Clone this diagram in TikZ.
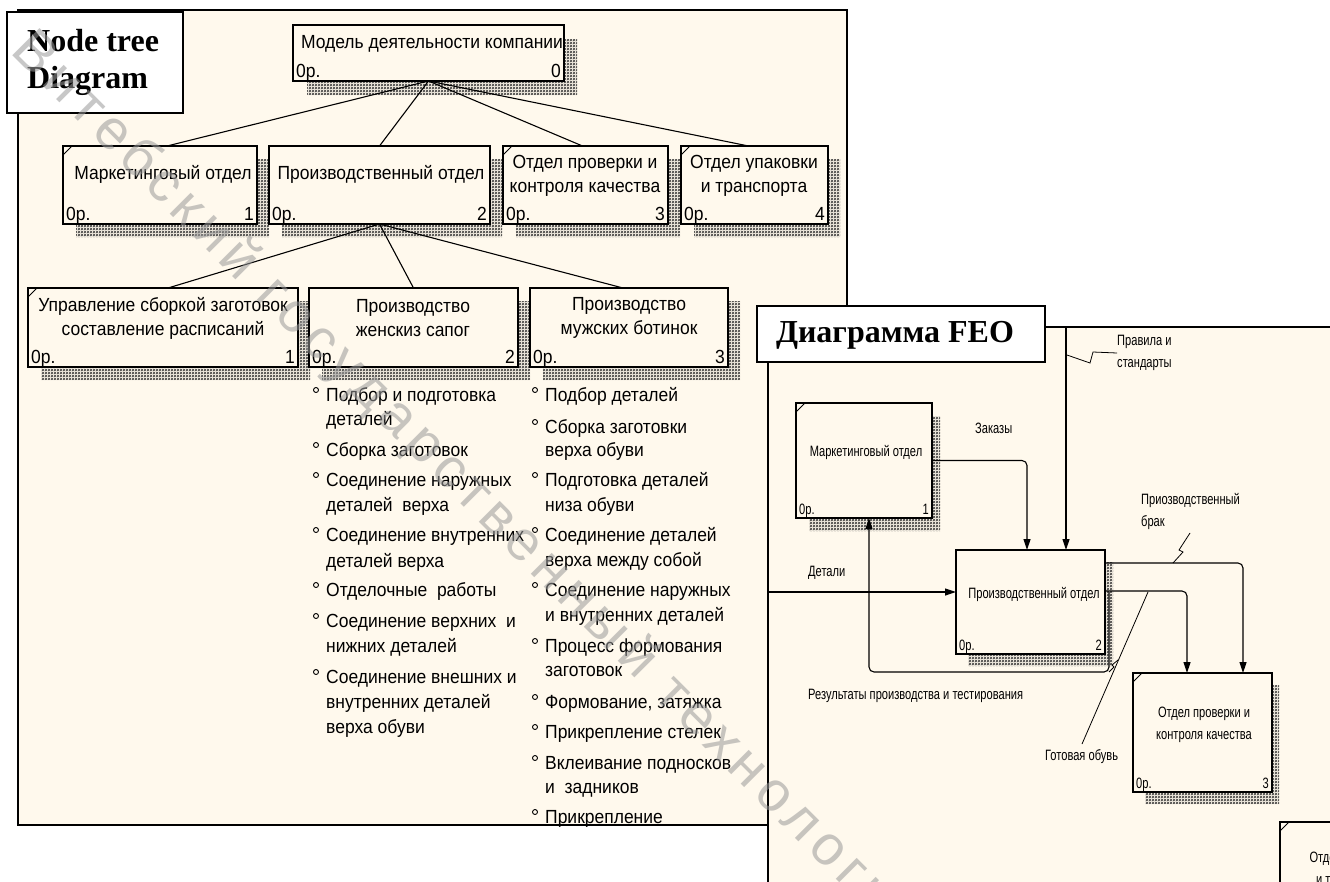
\documentclass[tikz,border=0pt]{standalone}
\usepackage{fontspec}
\setmainfont{Liberation Serif}
\newfontfamily\treefont{Liberation Sans}[FakeStretch=0.92]
\newfontfamily\feofont{Liberation Sans}[FakeStretch=0.74]
\newfontfamily\wmfont{Liberation Sans}[LetterSpace=12]
\usetikzlibrary{arrows.meta,calc,patterns}
\definecolor{cream}{RGB}{255,249,237}
\pgfdeclarepatternformonly{idefhatch}{\pgfqpoint{0pt}{0pt}}{\pgfqpoint{3pt}{3pt}}{\pgfqpoint{3pt}{3pt}}{%
  \pgfsetlinewidth{0.55pt}%
  \pgfpathmoveto{\pgfqpoint{0pt}{0pt}}\pgfpathlineto{\pgfqpoint{3pt}{3pt}}%
  \pgfpathmoveto{\pgfqpoint{0pt}{3pt}}\pgfpathlineto{\pgfqpoint{3pt}{0pt}}%
  \pgfusepath{stroke}}
\newcommand\tfont{\treefont\fontsize{19}{24}\selectfont}
\newcommand\ffont{\feofont\fontsize{15}{22}\selectfont}
% name, x1, y1, x2, y2, shadow right width, shadow bottom height, font, number
\newcommand\idef[9]{%
  \fill[hatch] (#4,#3+#7) -- (#4+#6,#3+#7) -- (#4+#6,#5+#7) -- (#2+#7,#5+#7) -- (#2+#7,#5) -- (#4,#5) -- cycle;
  \node[ibx, anchor=north west, minimum width={(#4-#2)*1pt}, minimum height={(#5-#3)*1pt}] (#1) at (#2,#3) {};
  \node[font=#8, anchor=base west, inner sep=0] (#1-op) at ($(#1.south west)+(3,-4)$) {0р.};
  \node[font=#8, anchor=base east, inner sep=0] (#1-no) at ($(#1.south east)+(-3,-4)$) {#9};
}
\newcommand\cmark[1]{\draw[line width=0.8pt] (#1.north west) ++(0,9) -- ++(9,-9);}
\begin{document}
\begin{tikzpicture}[x=1pt,y=-1pt,
  ibx/.style={draw=black, fill=cream, line width=1.3pt, inner sep=0, outer sep=0},
  hatch/.style={pattern=idefhatch, pattern color=black!80},
  tline/.style={line width=1.1pt},
  arr/.style={line width=1.1pt, -{Triangle[length=11pt,width=7pt]}},
  leader/.style={line width=0.8pt},
  tf/.style={font=\tfont, align=center, inner sep=0},
  ff/.style={font=\ffont, align=center, inner sep=0},
  fl/.style={font=\ffont, align=left, inner sep=0, anchor=west},
  lt/.style={font=\tfont, anchor=base west, inner sep=0},
  bul/.style={circle, draw, line width=0.9pt, inner sep=0, minimum size=5pt},
  panel/.style={draw=black, fill=cream, line width=1.4pt},
  lbox/.style={draw=black, fill=white, line width=1.6pt, inner sep=0, outer sep=0},
  lbtext/.style={font=\bfseries\fontsize{32}{37}\selectfont, inner sep=0},
]
\useasboundingbox (0,0) rectangle (1330,881);
\fill[white] (0,0) rectangle (1330,881);
\begin{scope}
\clip (0,0) rectangle (1330,881);

% ---------- Node tree panel ----------
\draw[panel] (18,10) rectangle (847,825);
\node[lbox, anchor=north west, minimum width=176pt, minimum height=101pt] (ntbox) at (7,12) {};
\node[lbtext, align=left, anchor=west] (nttext) at (27,62) {Node tree\\Diagram};

% tree boxes
\idef{t0}{293}{25}{564}{81}{13}{14}{\tfont}{0}
\node[tf] (t0-t) at (432,44) {Модель деятельности компании};

\idef{t1}{63}{146}{257}{224}{12}{13}{\tfont}{1}
\node[tf] (t1-t) at (163,174) {Маркетинговый отдел};
\cmark{t1}
\idef{t2}{269}{146}{490}{224}{12}{13}{\tfont}{2}
\node[tf] (t2-t) at (381,174) {Производственный отдел};
\idef{t3}{503}{146}{668}{224}{12}{13}{\tfont}{3}
\node[tf] (t3-t) at (585,176) {Отдел проверки и\\контроля качества};
\cmark{t3}
\idef{t4}{681}{146}{828}{224}{12}{13}{\tfont}{4}
\node[tf] (t4-t) at (754,176) {Отдел упаковки\\и транспорта};
\cmark{t4}

\idef{l1}{28}{288}{298}{367}{12}{13}{\tfont}{1}
\node[tf] (l1-t) at (163,318) {Управление сборкой заготовок\\составление расписаний};
\cmark{l1}
\idef{l2}{309}{288}{518}{367}{12}{13}{\tfont}{2}
\node[tf] (l2-t) at (413,318) {Производство\\женскиз сапог};
\idef{l3}{530}{288}{728}{367}{12}{13}{\tfont}{3}
\node[tf] (l3-t) at (629,318) {Производство\\мужских ботинок};

% tree connectors
\draw[tline] (t0.south) -- ($(t1.north)+(7,0)$);
\draw[tline] (t0.south) -- (t2.north);
\draw[tline] (t0.south) -- ($(t3.north)+(-3,0)$);
\draw[tline] (t0.south) -- ($(t4.north)+(-6,0)$);
\draw[tline] (t2.south) -- ($(l1.north)+(5,0)$);
\draw[tline] (t2.south) -- (l2.north);
\draw[tline] (t2.south) -- ($(l3.north)+(-6,0)$);

% lists
\foreach \y/\tx/\bl [count=\i] in {395/{Подбор и подготовка}/1, 419/{деталей}/0, 450/{Сборка заготовок}/1,
  480/{Соединение наружных}/1, 505/{деталей~ верха}/0, 535/{Соединение внутренних}/1, 561/{деталей верха}/0,
  590/{Отделочные~ работы}/1, 621/{Соединение верхних~ и}/1, 646/{нижних деталей}/0,
  677/{Соединение внешних и}/1, 702/{внутренних деталей}/0, 727/{верха обуви}/0}{
  \node[lt] (a\i) at (326,\y+6) {\tx};
  \ifnum\bl=1 \node[bul] (ab\i) at (316,\y-5) {};\fi
}
\foreach \y/\tx/\bl [count=\i] in {395/{Подбор деталей}/1, 427/{Сборка заготовки}/1, 450/{верха обуви}/0,
  480/{Подготовка деталей}/1, 505/{низа обуви}/0, 535/{Соединение деталей}/1, 560/{верха между собой}/0,
  590/{Соединение наружных}/1, 615/{и внутренних деталей}/0, 646/{Процесс формования}/1, 670/{заготовок}/0,
  702/{Формование, затяжка}/1, 732/{Прикрепление стелек}/1, 763/{Вклеивание подносков}/1,
  787/{и~ задников}/0, 817/{Прикрепление}/1}{
  \node[lt] (b\i) at (545,\y+6) {\tx};
  \ifnum\bl=1 \node[bul] (bb\i) at (535,\y-5) {};\fi
}
\draw[line width=1.4pt] (18,825) -- (847,825);

% ---------- FEO panel ----------
\draw[panel] (768,327) rectangle (1400,950);
\node[lbox, anchor=north west, minimum width=288pt, minimum height=56pt] (feobox) at (757,306) {};
\node[lbtext] (feotext) at (895,335) {Диаграмма FEO};

\coordinate (ptop) at (1066,327);
\coordinate (dl) at (768,592);

\idef{f1}{796}{403}{932}{518}{8}{13}{\ffont}{1}
\node[ff] (f1-t) at (866,452) {Маркетинговый отдел};
\cmark{f1}
% feedback line (behind shadows)
\draw[arr, rounded corners=5pt] (1109,592) |- ($(f1.south)+(5,154)$) -- ($(f1.south)+(5,0)$);

\idef{f2}{956}{550}{1105}{654}{8}{12}{\ffont}{2}
\node[ff] (f2-t) at (1034,594) {Производственный отдел};
\idef{f3}{1133}{673}{1272}{792}{7}{12}{\ffont}{3}
\node[ff] (f3-t) at (1204,725) {Отдел проверки и\\контроля качества};
\cmark{f3}
\idef{f4}{1280}{822}{1419}{941}{7}{12}{\ffont}{4}
\node[ff] (f4-t) at (1350,870) {Отдел упаковки\\и транспорта};
\cmark{f4}

% FEO arrows
\draw[arr] (ptop) -- (ptop |- f2.north);
\draw[arr, rounded corners=5pt] (f1.east) -| ($(f2.north west)+(71,0)$);
\draw[arr] (dl) -- (dl -| f2.west);
\draw[arr, rounded corners=5pt] ($(f2.north east)+(0,13)$) -| ($(f3.north west)+(110,0)$);
\draw[arr, rounded corners=5pt] ($(f2.north east)+(0,41)$) -| ($(f3.north west)+(54,0)$);

% FEO labels and leaders
\node[fl] (lprav) at (1117,353) {Правила и\\стандарты};
\draw[leader] (1067,355) -- (1090,363) -- (1093,352) -- (lprav.west);
\node[fl] (lzak) at (975,428) {Заказы};
\node[fl] (lbrak) at (1141,511) {Приозводственный\\брак};
\draw[leader] (1173,563) -- (1183,552) -- (1179,550) -- (1190,533);
\node[fl] (ldet) at (808,573) {Детали};
\node[fl] (lres) at (808,696) {Результаты производства и тестирования};
\node[fl] (lgot) at (1045,757) {Готовая обувь};
\draw[leader] (1148,592) -- (1082,744);
\draw[leader] (1109,672) -- (1114,667) -- (1112,665) -- (1118,660);

% watermark
\node[rotate=-45, anchor=west, inner sep=0, font=\wmfont\fontsize{56}{56}\selectfont, text=black!40, opacity=0.55] (wm) at (20,42) {Витебский государственный технологический университет};
\end{scope}
\end{tikzpicture}
\end{document}
